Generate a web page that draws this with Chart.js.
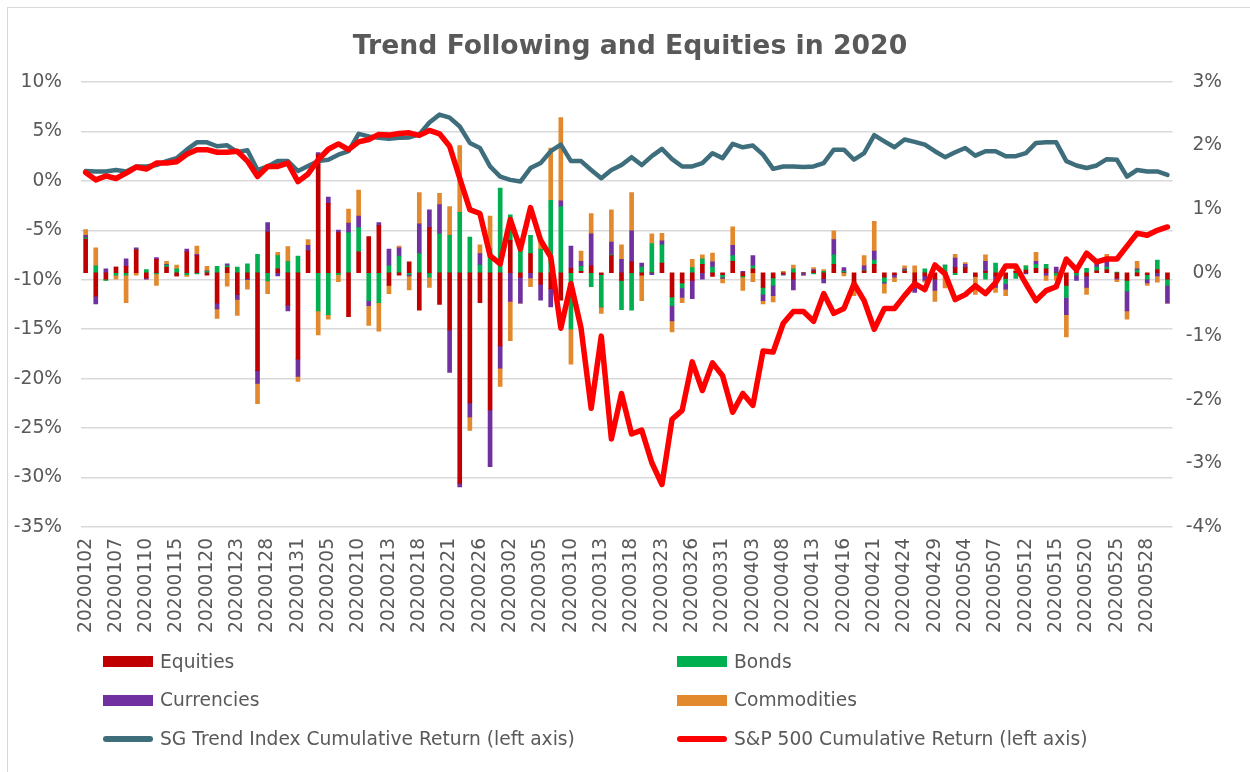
<!DOCTYPE html>
<html>
<head>
<meta charset="utf-8">
<script src="https://cdn.jsdelivr.net/npm/chart.js@4.4.1/dist/chart.umd.min.js"></script>
<style>
  html, body { margin: 0; padding: 0; background: #ffffff; }
  #wrap { position: relative; width: 1250px; height: 772px; overflow: hidden; background: #fff; }
  #frame { position: absolute; left: 7px; top: 7px; width: 1300px; height: 800px;
           border-left: 1px solid #d9d9d9; border-top: 1px solid #d9d9d9; }
  #c { position: absolute; left: 0; top: 0; }
  #title { position: absolute; left: 5px; top: 32px; width: 1250px; text-align: center;
           font-family: "DejaVu Sans", Verdana, sans-serif; font-weight: bold; font-size: 26.67px;
           line-height: 26.67px; color: #595959; white-space: nowrap; }
  .lg { position: absolute; font-family: "DejaVu Sans", Verdana, sans-serif; font-size: 18.67px;
        line-height: 18.67px; color: #595959; white-space: nowrap; }
  .sw { position: absolute; width: 50px; height: 11px; }
  .ln { position: absolute; width: 50px; height: 6px; border-radius: 3px; }
</style>
</head>
<body>
<div id="wrap">
  <div id="frame"></div>
  <canvas id="c" width="1250" height="772"></canvas>
  <div id="title">Trend Following and Equities in 2020</div>
  <div id="legend"></div>
</div>
<script>
const dates = [
  "20200102","20200103","20200106","20200107","20200108","20200109","20200110","20200113","20200114","20200115",
  "20200116","20200117","20200120","20200121","20200122","20200123","20200124","20200127","20200128","20200129",
  "20200130","20200131","20200203","20200204","20200205","20200206","20200207","20200210","20200211","20200212",
  "20200213","20200214","20200217","20200218","20200219","20200220","20200221","20200224","20200225","20200226",
  "20200227","20200228","20200302","20200303","20200304","20200305","20200306","20200309","20200310","20200311",
  "20200312","20200313","20200316","20200317","20200318","20200319","20200320","20200323","20200324","20200325",
  "20200326","20200327","20200330","20200331","20200401","20200402","20200403","20200406","20200407","20200408",
  "20200409","20200410","20200413","20200414","20200415","20200416","20200417","20200420","20200421","20200422",
  "20200423","20200424","20200427","20200428","20200429","20200430","20200501","20200504","20200505","20200506",
  "20200507","20200508","20200511","20200512","20200513","20200514","20200515","20200518","20200519","20200520",
  "20200521","20200522","20200525","20200526","20200527","20200528","20200529","20200601"
];

// Daily return contribution by sector (% , right axis)
const equities = [
  0.53,-0.37,-0.10,0.09,0.10,0.36,-0.08,0.21,0.09,-0.05,
  0.33,0.27,-0.04,-0.48,0.08,-0.34,-0.09,-1.54,0.64,0.06,
  -0.51,-1.36,0.35,1.86,1.09,0.63,-0.69,0.33,0.57,0.74,
  -0.20,-0.04,0.17,-0.59,0.71,-0.50,-0.90,-3.31,-2.05,-0.47,
  -2.16,-1.15,0.51,-0.07,0.30,-0.18,-0.25,-0.43,0.07,0.02,
  0.11,-0.03,0.27,-0.12,0.17,-0.04,0,0.15,-0.38,-0.16,
  -0.12,0.13,-0.06,-0.03,0.18,-0.05,0.06,-0.23,-0.08,-0.02,
  -0.10,0,0.03,-0.09,0.13,0,-0.14,0.03,0.13,-0.07,
  -0.03,0.03,-0.14,-0.05,-0.10,0,0.08,0.08,-0.06,0.02,
  -0.05,-0.09,0.02,0.04,0.07,0.06,0,-0.20,0.03,-0.05,
  0.03,0.05,-0.08,-0.12,-0.05,-0.03,0.05,-0.10
];
const bonds = [
  0.02,0.11,-0.02,-0.04,-0.04,0,0.05,-0.02,0.03,0.06,
  -0.03,-0.02,0.02,0.10,0.03,0.09,0.14,0.29,-0.13,0.21,
  0.18,0.26,0,-0.60,-0.66,-0.03,0.63,0.38,-0.44,-0.47,
  0.11,0.26,-0.03,0.30,-0.07,0.61,0.59,0.95,0.56,0.12,
  0.38,1.33,0.40,0.45,0.29,0.37,1.14,1.04,-0.89,0.08,
  -0.22,-0.51,0.01,-0.46,-0.59,0.09,0.46,0.29,-0.14,-0.08,
  0.08,0.09,0.09,-0.04,0.09,-0.02,0.05,-0.11,-0.12,0,
  0.06,0,-0.02,0.02,0.15,0.02,-0.02,0.01,0.07,-0.08,
  0,0.01,0,0.06,0,0.12,-0.03,0,0,-0.10,
  0.15,-0.08,-0.09,0.07,0.06,0.07,-0.04,-0.19,-0.04,0.07,
  0.06,0.04,0.01,-0.17,0.04,-0.07,0.15,-0.10
];
const currencies = [
  0.04,-0.12,0.06,0,0.12,0.03,-0.02,0.03,0.01,0,
  0.04,0.02,0.01,-0.09,0.03,-0.08,-0.02,-0.20,0.15,-0.05,
  -0.09,-0.27,0.08,0.03,0.10,0.04,0.15,0.18,-0.08,0.05,
  0.26,0.13,-0.02,0.47,0.28,0.46,-0.67,-0.06,-0.22,0.18,
  -0.89,-0.35,-0.45,-0.41,-0.08,-0.25,-0.29,0.09,0.35,0.08,
  0.50,0,0.20,0.21,0.49,0.06,-0.03,0.06,-0.24,-0.15,
  -0.29,-0.10,0.08,-0.02,0.16,0.02,0.16,-0.10,-0.16,-0.02,
  -0.17,-0.04,0.02,-0.07,0.24,0.06,0,0.07,0.14,-0.02,
  -0.04,0.02,-0.17,-0.07,-0.18,0,0.15,0.05,0,0.16,
  -0.18,-0.09,0,-0.02,0.05,-0.04,0.09,-0.27,-0.08,-0.18,
  0.04,0.11,-0.02,-0.31,0.02,-0.06,-0.05,-0.28
];
const commodities = [
  0.09,0.28,0,-0.06,-0.43,-0.04,0,-0.18,0.05,0.06,
  -0.03,0.13,0.07,-0.15,-0.21,-0.25,-0.15,-0.32,-0.20,0.05,
  0.23,-0.08,0.09,-0.38,-0.07,-0.11,0.22,0.41,-0.31,-0.45,
  -0.13,0.03,-0.22,0.49,-0.16,0.18,0.45,1.05,-0.21,0.14,
  0.51,-0.29,-0.62,0,-0.14,0.14,0.82,1.31,-0.55,0.16,
  0.32,-0.10,0.51,0.23,0.60,-0.40,0.15,0.12,-0.17,-0.08,
  0.13,0.06,0.14,-0.07,0.29,-0.21,-0.14,-0.05,-0.10,0.02,
  0.06,0,0.03,0.03,0.14,-0.05,-0.20,0.16,0.47,-0.15,
  -0.07,0.05,0.11,-0.03,-0.17,-0.24,0.06,0.03,-0.28,0.10,
  -0.08,-0.10,0.05,0,0.14,-0.08,-0.08,-0.35,0,-0.11,
  0.02,0.09,-0.04,-0.13,0.12,-0.04,-0.10,0
];
// Cumulative returns (% , left axis)
const sgTrend = [
  1.00,0.95,0.95,1.10,0.95,1.46,1.46,1.60,2.00,2.30,
  3.16,3.90,3.90,3.50,3.60,2.90,3.10,1.10,1.46,2.00,
  2.00,1.00,1.50,2.00,2.14,2.65,3.00,4.76,4.50,4.35,
  4.25,4.35,4.40,4.70,5.90,6.70,6.40,5.50,3.84,3.33,
  1.46,0.44,0.10,-0.07,1.30,1.80,3.00,3.67,2.00,2.00,
  1.10,0.27,1.10,1.60,2.40,1.60,2.50,3.23,2.20,1.46,
  1.46,1.80,2.80,2.30,3.74,3.40,3.57,2.65,1.22,1.46,
  1.46,1.40,1.46,1.80,3.16,3.16,2.14,2.80,4.63,4.00,
  3.40,4.18,3.95,3.67,3.00,2.40,2.90,3.33,2.55,3.00,
  3.00,2.50,2.50,2.80,3.84,3.90,3.90,2.00,1.56,1.30,
  1.56,2.20,2.14,0.44,1.10,0.95,0.95,0.60
];
const sp500 = [
  0.85,0.10,0.50,0.24,0.78,1.40,1.20,1.80,1.80,1.94,
  2.70,3.16,3.16,2.90,2.90,3.00,2.00,0.44,1.46,1.46,
  1.80,-0.07,0.70,2.14,3.20,3.74,3.16,3.95,4.18,4.70,
  4.63,4.80,4.86,4.60,5.10,4.76,3.50,0.27,-2.90,-3.30,
  -7.55,-8.40,-3.90,-6.90,-2.70,-6.00,-7.70,-14.90,-10.40,-14.90,
  -23.00,-15.70,-26.10,-21.50,-25.60,-25.20,-28.50,-30.70,-24.10,-23.20,
  -18.30,-21.20,-18.40,-19.70,-23.40,-21.50,-22.70,-17.20,-17.30,-14.40,
  -13.20,-13.20,-14.20,-11.40,-13.40,-12.90,-10.40,-12.10,-15.00,-12.90,
  -12.90,-11.60,-10.40,-11.00,-8.50,-9.40,-12.00,-11.50,-10.60,-11.40,
  -10.30,-8.60,-8.60,-10.40,-12.10,-11.10,-10.70,-7.90,-9.00,-7.30,
  -8.20,-7.90,-7.90,-6.60,-5.30,-5.50,-5.00,-4.66
];

const seriesNames = ["Equities","Bonds","Currencies","Commodities",
  "SG Trend Index Cumulative Return (left axis)","S&P 500 Cumulative Return (left axis)"];
const seriesColors = ["#C00000","#00B050","#7030A0","#E2892E","#3E6D7C","#FF0000"];
const labelEvery = 3;

const FONT = '"DejaVu Sans", Verdana, sans-serif';
const GREY = '#595959';

function barSet(i, data) {
  return { type: 'bar', label: seriesNames[i], data: data, backgroundColor: seriesColors[i],
           borderWidth: 0, barThickness: 4, yAxisID: 'y1', stack: 'contrib', order: 2 };
}

new Chart(document.getElementById('c'), {
  data: {
    labels: dates,
    datasets: [
      barSet(0, equities), barSet(1, bonds), barSet(2, currencies), barSet(3, commodities),
      { type: 'line', label: seriesNames[4], data: sgTrend, borderColor: seriesColors[4],
        backgroundColor: seriesColors[4], borderWidth: 4.5, pointRadius: 0, tension: 0,
        borderJoinStyle: 'round', borderCapStyle: 'round', yAxisID: 'y', order: 1 },
      { type: 'line', label: seriesNames[5], data: sp500, borderColor: seriesColors[5],
        backgroundColor: seriesColors[5], borderWidth: 5.5, pointRadius: 0, tension: 0,
        borderJoinStyle: 'round', borderCapStyle: 'round', yAxisID: 'y', order: 0 }
    ]
  },
  options: {
    responsive: false,
    animation: false,
    layout: { padding: { top: 82, left: 0, right: 28, bottom: 135 } },
    plugins: { legend: { display: false }, title: { display: false }, tooltip: { enabled: false } },
    scales: {
      x: {
        stacked: true,
        grid: { display: false, drawTicks: false },
        border: { display: false },
        ticks: {
          autoSkip: false, minRotation: 90, maxRotation: 90, padding: 11,
          color: GREY, font: { family: FONT, size: 18.67 },
          callback: function(v, i) { return i % labelEvery === 0 ? dates[i] : ''; }
        },
        afterFit: function(s) { s.height = 110; }
      },
      y: {
        position: 'left', min: -35, max: 10,
        grid: { color: '#d9d9d9', lineWidth: 1.5, drawTicks: false },
        border: { display: false },
        ticks: { stepSize: 5, padding: 18.6, color: GREY, font: { family: FONT, size: 18.67 },
                 callback: function(v) { return Math.round(v) + '%'; } },
        afterFit: function(s) { s.width = 80.6; }
      },
      y1: {
        position: 'right', stacked: true, min: -4, max: 3,
        grid: { display: false, drawTicks: false },
        border: { display: false },
        ticks: { stepSize: 1, crossAlign: 'far', color: GREY, font: { family: FONT, size: 18.67 },
                 callback: function(v) { return Math.round(v) + '%'; } },
        afterFit: function(s) { s.width = 49.5; }
      }
    }
  }
});

// Legend (two columns, three rows)
const legendPos = [
  { x: 103, y: 661.5 }, { x: 677, y: 661.5 },
  { x: 103, y: 700 },   { x: 677, y: 700 },
  { x: 103, y: 739 },   { x: 677, y: 739 }
];
const legendOrder = [0, 1, 2, 3, 4, 5];
const lg = document.getElementById('legend');
legendOrder.forEach(function(si, k) {
  const p = legendPos[k];
  const sw = document.createElement('div');
  if (si < 4) {
    sw.className = 'sw';
    sw.style.left = p.x + 'px';
    sw.style.top = (p.y - 5.5) + 'px';
  } else {
    sw.className = 'ln';
    sw.style.left = p.x + 'px';
    sw.style.top = (p.y - 3) + 'px';
  }
  sw.style.background = seriesColors[si];
  lg.appendChild(sw);
  const t = document.createElement('div');
  t.className = 'lg';
  t.style.left = (p.x + 57) + 'px';
  t.style.top = (p.y - 9) + 'px';
  t.textContent = seriesNames[si];
  lg.appendChild(t);
});
</script>
</body>
</html>
